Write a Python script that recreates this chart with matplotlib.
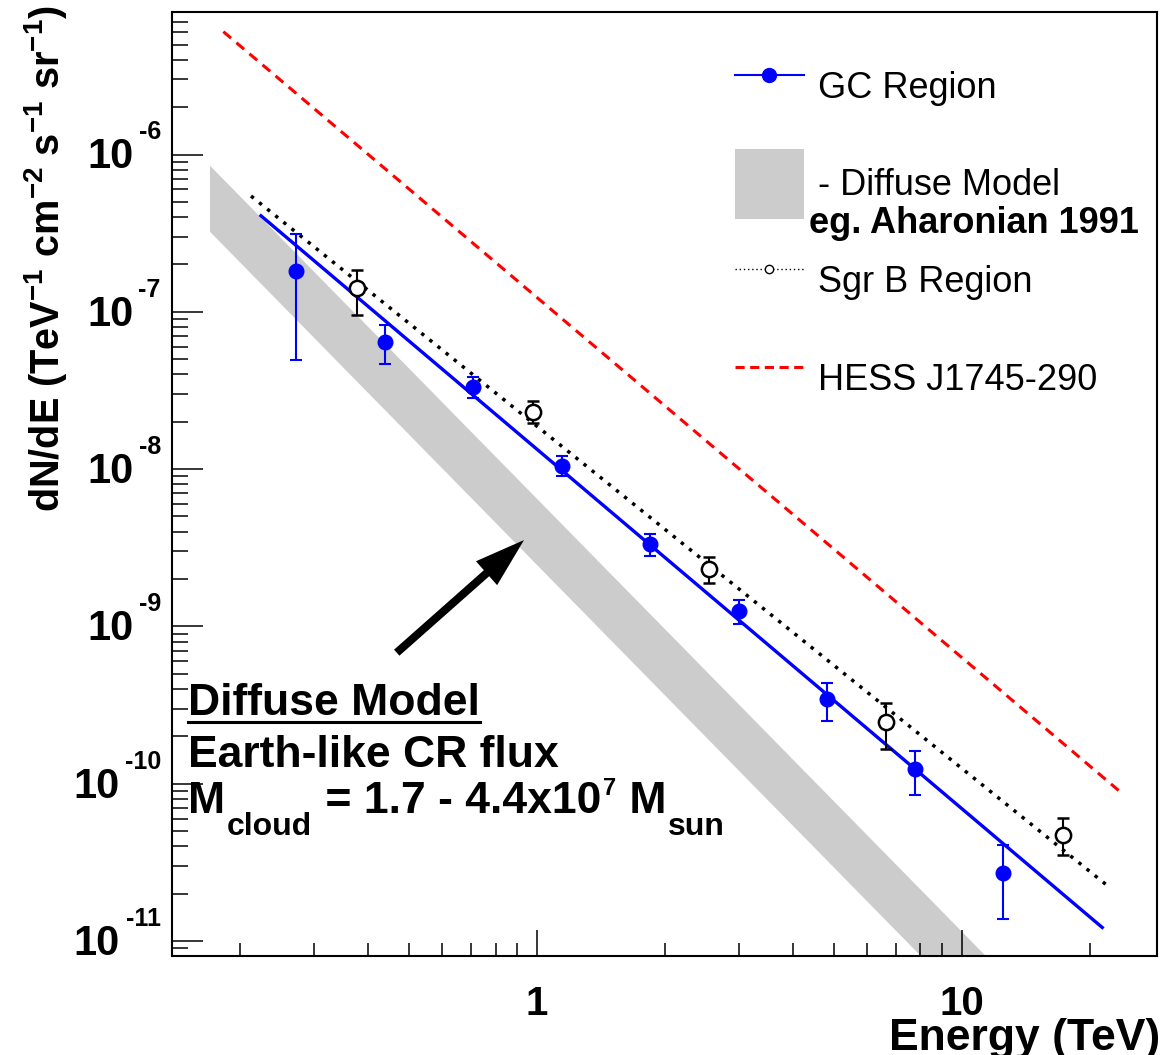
import numpy as np
import matplotlib
matplotlib.use('Agg')
import matplotlib.pyplot as plt
from matplotlib.lines import Line2D
from matplotlib.patches import Patch
from matplotlib.ticker import LogLocator, NullFormatter, FuncFormatter

# шрифты: Liberation Sans (аналог Helvetica), всё жирное
plt.rcParams['font.family'] = 'Liberation Sans'
plt.rcParams['font.weight'] = 'bold'
plt.rcParams['axes.labelweight'] = 'bold'
plt.rcParams['mathtext.fontset'] = 'custom'
plt.rcParams['mathtext.rm'] = 'Liberation Sans:bold'
plt.rcParams['mathtext.it'] = 'Liberation Sans:bold'
plt.rcParams['mathtext.bf'] = 'Liberation Sans:bold'

# GC Region: энергия (TeV), поток и границы ошибок
gc_e = [0.272, 0.44, 0.709, 1.149, 1.847, 2.987, 4.813, 7.753, 12.53]
gc_f = [1.82e-7, 6.46e-8, 3.31e-8, 1.05e-8, 3.34e-9, 1.26e-9, 3.45e-10, 1.24e-10, 2.72e-11]
gc_hi = [3.12e-7, 8.28e-8, 3.84e-8, 1.21e-8, 3.88e-9, 1.47e-9, 4.39e-10, 1.62e-10, 4.08e-11]
gc_lo = [4.94e-8, 4.64e-8, 2.82e-8, 9.04e-9, 2.81e-9, 1.04e-9, 2.52e-10, 8.5e-11, 1.38e-11]

# Sgr B Region
sgrb_e = [0.378, 0.979, 2.547, 6.625, 17.29]
sgrb_f = [1.41e-7, 2.32e-8, 2.31e-9, 2.47e-10, 4.74e-11]
sgrb_hi = [1.84e-7, 2.72e-8, 2.75e-9, 3.24e-10, 6.05e-11]
sgrb_lo = [9.54e-8, 1.97e-8, 1.88e-9, 1.67e-10, 3.52e-11]

# аппроксимации (концы прямых)
gc_fit_e = [0.2245, 21.42]
gc_fit_f = [4.08e-7, 1.22e-11]
sgrb_fit_e = [0.2127, 21.94]
sgrb_fit_f = [5.45e-7, 2.27e-11]
hess_e = [0.1831, 24.10]
hess_f = [6.04e-6, 8.48e-11]

# полоса диффузной модели
band_e = [0.1703, 13.54, 9.52, 0.1703]
band_f = [8.49e-7, 5e-12, 5e-12, 3.23e-7]

# стрелка: хвост и острие
arrow_tail = (0.4685, 6.81e-10)
arrow_tip = (0.9335, 3.54e-9)

y_decades = [-6, -7, -8, -9, -10, -11]

fig = plt.figure(figsize=(11.65, 10.55), dpi=100)
ax = fig.add_axes([0.1476, 0.0938, 0.8455, 0.8948])
ax.set_xscale('log')
ax.set_yscale('log')

ax.fill(band_e, band_f, color='#cccccc', lw=0, zorder=1)
ax.plot(hess_e, hess_f, color='red', ls=(0, (3.3, 2.3)), lw=2.2, zorder=2)
ax.plot(sgrb_fit_e, sgrb_fit_f, color='black', ls=(0, (1, 2)), lw=2.5, zorder=2)
ax.plot(gc_fit_e, gc_fit_f, color='blue', lw=2.4, zorder=2)

gc_f = np.array(gc_f)
ax.errorbar(gc_e, gc_f, yerr=[gc_f - np.array(gc_lo), np.array(gc_hi) - gc_f],
            fmt='o', color='blue', ms=10.5, capsize=4.5, elinewidth=1.5,
            capthick=1.5, zorder=3)
sgrb_f = np.array(sgrb_f)
ax.errorbar(sgrb_e, sgrb_f, yerr=[sgrb_f - np.array(sgrb_lo), np.array(sgrb_hi) - sgrb_f],
            fmt='o', color='black', mfc='white', mec='black', mew=1.8, ms=11,
            capsize=4.5, elinewidth=1.5, capthick=1.5, zorder=3)

ax.set_xlim(0.1386, 28.81)
ax.set_ylim(8.03e-12, 8.05e-6)

for s in ax.spines.values():
    s.set_linewidth(1.5)

ax.xaxis.set_major_locator(LogLocator(base=10, numticks=100))
ax.xaxis.set_minor_locator(LogLocator(base=10, subs=np.arange(2, 10), numticks=100))
ax.yaxis.set_major_locator(LogLocator(base=10, numticks=100))
ax.yaxis.set_minor_locator(LogLocator(base=10, subs=np.arange(2, 10), numticks=100))
ax.xaxis.set_major_formatter(FuncFormatter(lambda v, p: '%g' % v))
ax.xaxis.set_minor_formatter(NullFormatter())
ax.yaxis.set_major_formatter(NullFormatter())
ax.yaxis.set_minor_formatter(NullFormatter())

ax.tick_params(which='both', direction='in', top=False, right=False, width=1.1)
ax.tick_params(axis='y', which='major', length=22)
ax.tick_params(axis='y', which='minor', length=11.5)
ax.tick_params(axis='x', which='major', length=19, pad=21, labelsize=29)
ax.tick_params(axis='x', which='minor', length=9.5)

# подписи оси Y вида 10^-n
sup_size = 18
for k in y_decades:
    sup = '%d' % k
    w_sup = sup_size * (0.333 + 0.556 * (len(sup) - 1))
    ax.annotate(sup, xy=(0, 10.0 ** k), xycoords=('axes fraction', 'data'),
                xytext=(-8, 16), textcoords='offset points',
                ha='right', va='center', fontsize=sup_size)
    ax.annotate('10', xy=(0, 10.0 ** k), xycoords=('axes fraction', 'data'),
                xytext=(-8 - w_sup - 3.6, -2), textcoords='offset points',
                ha='right', va='center', fontsize=30)

ax.set_ylabel(r'dN/dE (TeV$^{-1}$ cm$^{-2}$ s$^{-1}$ sr$^{-1}$)', fontsize=28.5, loc='top')
ax.yaxis.set_label_coords(-0.105, 1.007)
ax.set_xlabel('Energy (TeV)', fontsize=32, loc='right')
ax.xaxis.set_label_coords(1.003, -0.066)

# стрелка к полосе модели
ax.annotate('', xy=arrow_tip, xytext=arrow_tail,
            arrowprops=dict(arrowstyle='simple,head_length=3.6,head_width=2.3,tail_width=0.58',
                            fc='black', ec='none', shrinkA=0, shrinkB=0))

# текстовый блок
x0 = 0.0162
t_head = ax.text(x0, 0.2553, 'Diffuse Model', transform=ax.transAxes,
                 fontsize=32, va='baseline')
ax.text(x0, 0.2002, 'Earth-like CR flux', transform=ax.transAxes,
        fontsize=32, va='baseline')
# третья строка собирается из кусков: M_cloud = 1.7 - 4.4x10^7 M_sun
y3 = 0.1515
pieces = [('M', 32, 0), ('cloud', 23, -16), (' = 1.7 - 4.4x10', 32, 0),
          ('7', 17, 13), (' M', 32, 0), ('sun', 23, -16)]
prev = ax.text(x0, y3, pieces[0][0], transform=ax.transAxes,
               fontsize=pieces[0][1], va='baseline')
for txt, size, dy in pieces[1:]:
    prev = ax.annotate(txt, xy=(1, y3), xycoords=(prev, 'axes fraction'),
                       xytext=(1, dy), textcoords='offset points',
                       fontsize=size, va='baseline', ha='left')

# легенда
handles = [
    Line2D([], [], color='blue', lw=1.5, marker='o', ms=10, mfc='blue', mec='blue'),
    Patch(facecolor='#cccccc', edgecolor='none'),
    Line2D([], [], color='black', lw=1, ls=(0, (1, 2)), marker='o', ms=6,
           mfc='white', mec='black', mew=1),
    Line2D([], [], color='red', lw=2.2, ls=(0, (3, 1.8))),
]
labels = ['GC Region', '- Diffuse Model', 'Sgr B Region', 'HESS J1745-290']
ax.legend(handles, labels, loc='upper left', bbox_to_anchor=(0.5716, 0.9574),
          frameon=False, borderpad=0, borderaxespad=0, handlelength=1.9,
          handleheight=2.58, handletextpad=0.4, labelspacing=0.77,
          prop={'weight': 'normal', 'size': 26})
ax.text(0.6467, 0.7659, 'eg. Aharonian 1991', transform=ax.transAxes,
        fontsize=26, va='baseline')

# подчёркивание заголовка "Diffuse Model"
fig.canvas.draw()
bb = t_head.get_window_extent()
base_y = ax.transAxes.transform((x0, 0.2553))[1] - 7
W, H = fig.get_size_inches() * fig.dpi
fig.add_artist(Line2D([bb.x0 / W, bb.x1 / W], [base_y / H, base_y / H],
                      transform=fig.transFigure, color='black', lw=2.2))

plt.savefig('out.png', dpi=100)
